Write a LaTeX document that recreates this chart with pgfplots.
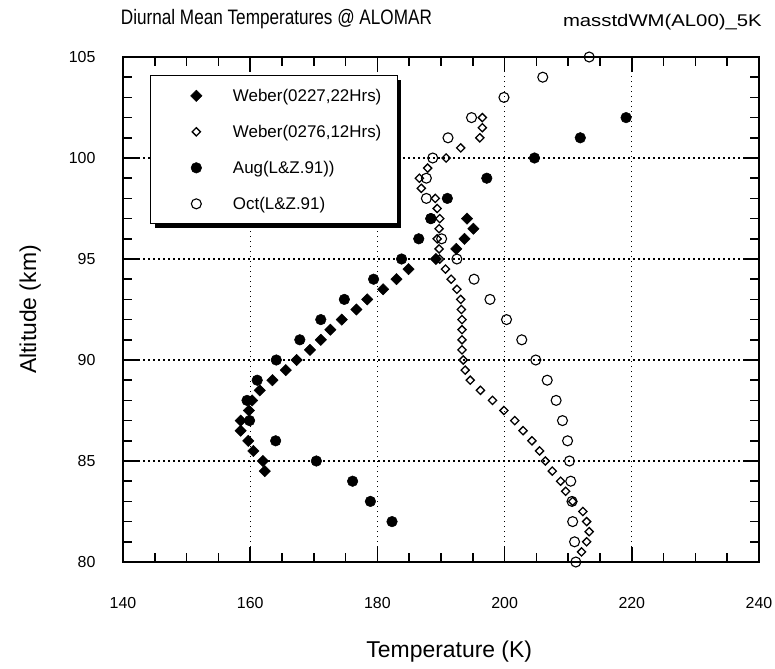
\documentclass[border=0pt]{standalone}
\usepackage{fontspec}
\setmainfont{Liberation Sans}
\usepackage{pgfplots}
\usepackage{pgfplotstable}
\pgfplotsset{compat=1.18}
\usetikzlibrary{shadows}

% temperature (K), altitude (km)
\pgfplotstableread{
T alt
194.1 97
195.1 96.5
193.7 96
192.4 95.5
189.2 95
184.9 94.5
183.0 94
180.9 93.5
178.4 93
176.7 92.5
174.4 92
172.6 91.5
171.1 91
169.4 90.5
167.3 90
165.6 89.5
163.5 89
161.5 88.5
160.3 88
159.8 87.5
158.5 87
158.5 86.5
159.7 86
160.5 85.5
162.0 85
162.3 84.5
}\weberA

\pgfplotstableread{
T alt
196.5 102
196.5 101.5
196.1 101
193.1 100.5
190.8 100
187.9 99.5
186.6 99
186.9 98.5
189.1 98
189.4 97.5
189.8 97
189.7 96.5
189.4 96
189.7 95.5
189.8 95
190.7 94.5
191.6 94
192.5 93.5
193.1 93
193.2 92.5
193.3 92
193.3 91.5
193.3 91
193.3 90.5
193.5 90
193.8 89.5
194.6 89
196.2 88.5
198.1 88
199.9 87.5
201.6 87
202.9 86.5
204.3 86
205.5 85.5
206.4 85
207.5 84.5
208.8 84
209.6 83.5
210.7 83
212.3 82.5
212.9 82
213.3 81.5
212.9 81
212.1 80.5
}\weberB

\pgfplotstableread{
T alt
219.1 102
211.9 101
204.7 100
197.2 99
191.0 98
188.4 97
186.5 96
183.8 95
179.4 94
174.8 93
171.1 92
167.8 91
164.1 90
161.1 89
159.5 88
159.9 87
164.0 86
170.4 85
176.1 84
178.9 83
182.3 82
}\aug

\pgfplotstableread{
T alt
213.3 105
206.0 104
199.9 103
194.8 102
191.1 101
188.7 100
187.7 99
187.7 98
188.4 97
190.1 96
192.5 95
195.2 94
197.7 93
200.3 92
202.7 91
204.9 90
206.7 89
208.1 88
209.1 87
209.9 86
210.2 85
210.4 84
210.6 83
210.7 82
211.0 81
211.2 80
}\oct

\begin{document}
\begin{tikzpicture}
\useasboundingbox (0,0) rectangle (775bp,-669bp);
\begin{axis}[
  at={(123bp,-562bp)}, anchor=south west,
  scale only axis, width=636bp, height=505bp,
  xmin=140, xmax=240, ymin=80, ymax=105,
  xtick={140,160,...,240}, ytick={80,85,...,105},
  minor x tick num=3, minor y tick num=4,
  major tick length=15bp, minor tick length=9bp,
  every tick/.style={black, line width=1.5bp},
  axis line style={line width=1.8bp},
  grid=major,
  major grid style={black, line width=1.3bp, dash pattern=on 1.5bp off 3.5bp},
  /pgf/number format/assume math mode=true,
  ticklabel style={font=\fontsize{16}{19}\selectfont},
  xticklabel style={yshift=-32bp},
  yticklabel style={xshift=-24bp},
  xlabel={Temperature (K)},
  ylabel={Altitude (km)},
  label style={font=\fontsize{23}{27}\selectfont},
  xlabel style={at={(axis description cs:0.513,-0.178)}, anchor=center},
  ylabel style={at={(axis description cs:-0.146,0.5)}, anchor=center},
  clip=false,
  legend cell align=left,
  legend style={at={(0.0425,0.964)}, anchor=north west,
    draw=black, line width=1.3bp, fill=white,
    inner xsep=13bp, inner ysep=9bp,
    nodes={inner sep=3bp, text height=14bp, text depth=2bp},
    row sep=14bp, column sep=15bp,
    font=\fontsize{17}{20}\selectfont,
    drop shadow={shadow xshift=4bp, shadow yshift=-4bp, fill=black, opacity=1}},
  legend image code/.code={\path (0bp,0bp) (50bp,0bp);
    \draw[#1] plot coordinates {(32bp,0bp)};},
]
\addplot[only marks, mark=square*, mark size=4bp,
  mark options={rotate=45, fill=black, draw=black, line width=0.5bp}]
  table[x=T, y=alt] {\weberA};
\addlegendentry{Weber(0227,22Hrs)}
\addplot[only marks, mark=square, mark size=2.9bp,
  mark options={rotate=45, draw=black, line width=1.3bp}]
  table[x=T, y=alt] {\weberB};
\addlegendentry{Weber(0276,12Hrs)}
\addplot[only marks, mark=*, mark size=5.3bp,
  mark options={fill=black, draw=black, line width=0.5bp}]
  table[x=T, y=alt] {\aug};
\addlegendentry{Aug(L\&Z.91))}
\addplot[only marks, mark=o, mark size=5bp,
  mark options={draw=black, line width=1.1bp}]
  table[x=T, y=alt] {\oct};
\addlegendentry{Oct(L\&Z.91)}
\end{axis}
\node[anchor=base west, xscale=0.82, font=\fontsize{21}{24}\selectfont] at (118bp,-24bp)
  {Diurnal Mean Temperatures @ ALOMAR};
\node[anchor=base east, xscale=1.2, font=\fontsize{17}{19}\selectfont] at (766bp,-26bp)
  {masstdWM(AL00)\_5K};
\end{tikzpicture}
\end{document}
